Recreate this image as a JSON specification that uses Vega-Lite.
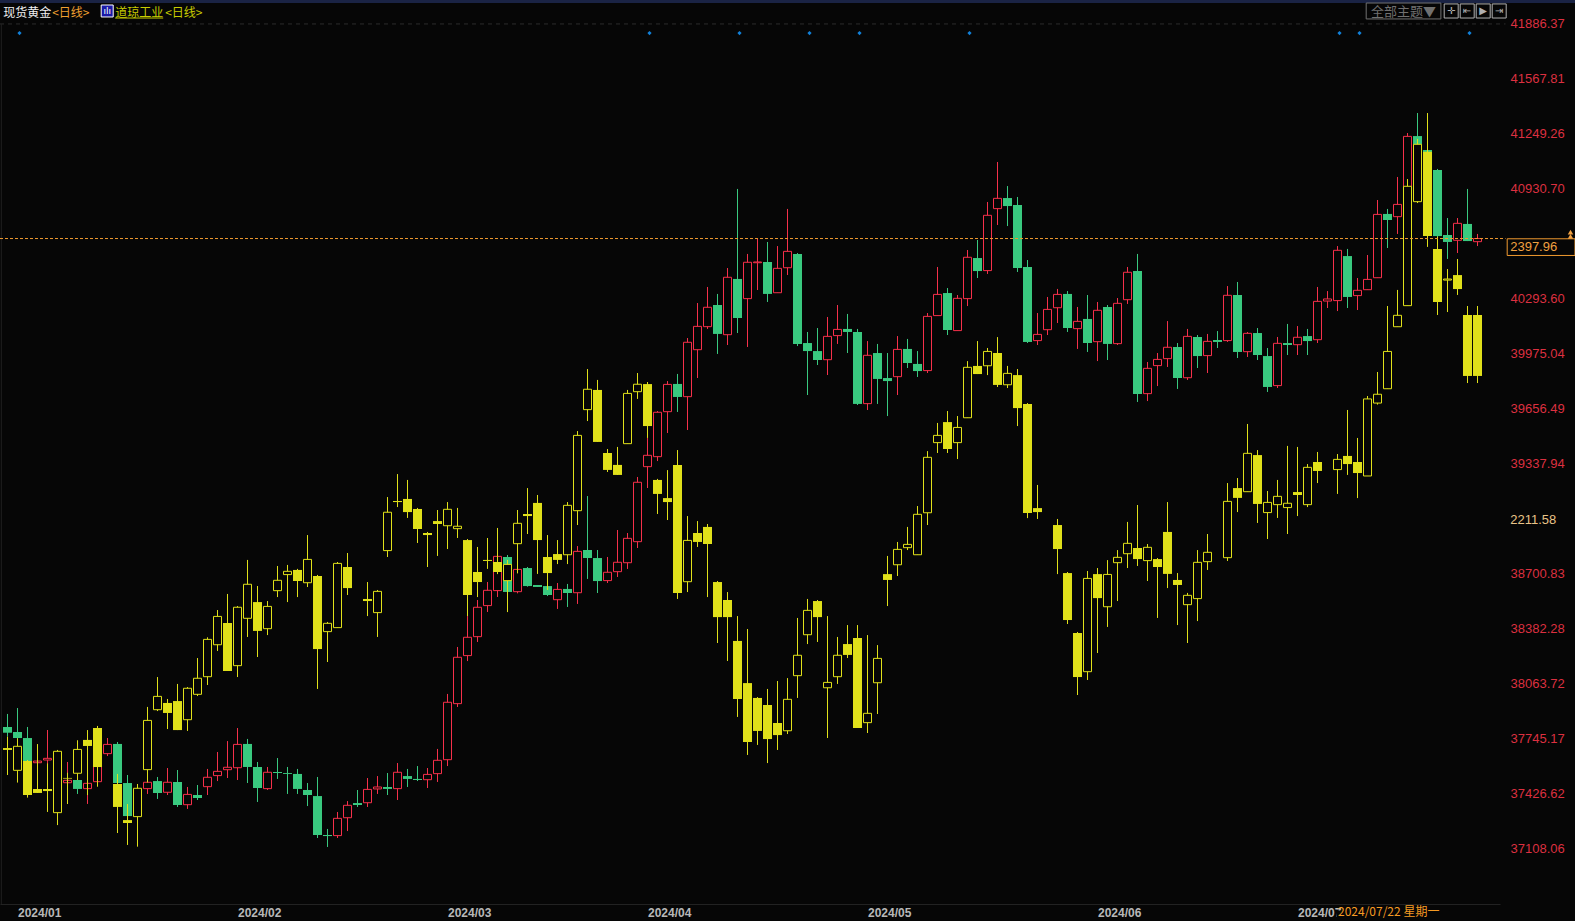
{"$schema":"https://vega.github.io/schema/vega-lite/v6.json","width":1500,"height":904,"autosize":{"type":"none"},"padding":{"left":0,"top":0,"right":75,"bottom":17},"background":"#060606","config":{"view":{"stroke":null},"text":{"font":"Noto Sans CJK SC"}},
"datasets":{"gold":[
{"i":0,"o":2075.6,"h":2084.2,"l":2069.2,"c":2071.8},{"i":1,"o":2072.3,"h":2088.1,"l":2063.0,"c":2068.3},{"i":2,"o":2068.3,"h":2075.6,"l":2049.4,"c":2051.6},{"i":3,"o":2052.0,"h":2054.9,"l":2050.5,"c":2053.1},{"i":4,"o":2053.8,"h":2073.6,"l":2042.8,"c":2054.9},{"i":5,"o":2045.0,"h":2051.6,"l":2040.6,"c":2049.4},{"i":6,"o":2038.8,"h":2052.5,"l":2037.3,"c":2040.4},{"i":7,"o":2040.6,"h":2042.8,"l":2031.4,"c":2034.7},{"i":8,"o":2034.9,"h":2040.6,"l":2024.8,"c":2038.4},{"i":9,"o":2039.5,"h":2053.8,"l":2038.4,"c":2051.6},
{"i":10,"o":2058.0,"h":2068.3,"l":2056.4,"c":2064.1},{"i":11,"o":2064.4,"h":2065.7,"l":2038.0,"c":2038.6},{"i":12,"o":2038.6,"h":2043.9,"l":2016.4,"c":2016.8},{"i":13,"o":2020.8,"h":2031.8,"l":2018.6,"c":2029.6},{"i":14,"o":2034.9,"h":2042.8,"l":2031.4,"c":2039.1},{"i":15,"o":2039.9,"h":2042.6,"l":2028.1,"c":2032.0},{"i":16,"o":2032.5,"h":2048.5,"l":2030.7,"c":2039.1},{"i":17,"o":2039.3,"h":2047.2,"l":2022.8,"c":2024.1},{"i":18,"o":2024.3,"h":2036.0,"l":2021.5,"c":2031.1},{"i":19,"o":2030.7,"h":2037.3,"l":2027.4,"c":2028.7},
{"i":20,"o":2036.2,"h":2047.9,"l":2030.7,"c":2042.4},{"i":21,"o":2043.5,"h":2059.1,"l":2039.9,"c":2046.3},{"i":22,"o":2047.4,"h":2066.3,"l":2041.9,"c":2049.0},{"i":23,"o":2048.7,"h":2074.9,"l":2040.6,"c":2064.1},{"i":24,"o":2064.4,"h":2067.7,"l":2038.6,"c":2049.2},{"i":25,"o":2049.2,"h":2052.5,"l":2026.1,"c":2035.3},{"i":26,"o":2034.9,"h":2049.2,"l":2034.0,"c":2045.7},{"i":27,"o":2045.9,"h":2055.1,"l":2041.3,"c":2045.2},{"i":28,"o":2045.2,"h":2049.2,"l":2031.4,"c":2044.6},{"i":29,"o":2044.6,"h":2047.9,"l":2031.4,"c":2034.7},
{"i":30,"o":2034.0,"h":2038.6,"l":2023.4,"c":2030.7},{"i":31,"o":2030.0,"h":2042.6,"l":2002.3,"c":2004.3},{"i":32,"o":2004.3,"h":2008.3,"l":1996.4,"c":2003.6},{"i":33,"o":2003.9,"h":2019.5,"l":2002.3,"c":2015.3},{"i":34,"o":2015.7,"h":2026.7,"l":2006.9,"c":2023.9},{"i":35,"o":2025.4,"h":2034.0,"l":2022.8,"c":2024.1},{"i":36,"o":2025.6,"h":2041.9,"l":2022.8,"c":2034.4},{"i":37,"o":2034.7,"h":2043.2,"l":2031.4,"c":2036.0},{"i":38,"o":2036.0,"h":2045.2,"l":2030.7,"c":2034.7},{"i":39,"o":2034.9,"h":2051.8,"l":2027.4,"c":2045.7},
{"i":40,"o":2043.2,"h":2047.9,"l":2036.0,"c":2041.3},{"i":41,"o":2041.3,"h":2049.8,"l":2039.9,"c":2040.6},{"i":42,"o":2040.8,"h":2048.5,"l":2035.3,"c":2044.3},{"i":43,"o":2044.8,"h":2061.1,"l":2039.3,"c":2053.6},{"i":44,"o":2054.0,"h":2097.4,"l":2049.8,"c":2091.9},{"i":45,"o":2091.0,"h":2128.4,"l":2088.8,"c":2121.6},{"i":46,"o":2122.7,"h":2148.8,"l":2119.1,"c":2134.8},{"i":47,"o":2135.2,"h":2159.4,"l":2131.7,"c":2154.6},{"i":48,"o":2155.7,"h":2171.3,"l":2151.5,"c":2165.8},{"i":49,"o":2165.6,"h":2189.1,"l":2161.4,"c":2188.2},
{"i":50,"o":2187.8,"h":2189.1,"l":2163.8,"c":2164.7},{"i":51,"o":2164.9,"h":2181.4,"l":2163.8,"c":2179.6},{"i":52,"o":2180.5,"h":2181.2,"l":2168.2,"c":2168.6},{"i":53,"o":2169.3,"h":2169.3,"l":2168.0,"c":2168.0},{"i":54,"o":2168.6,"h":2170.4,"l":2162.0,"c":2162.7},{"i":55,"o":2159.6,"h":2170.6,"l":2153.5,"c":2166.4},{"i":56,"o":2166.7,"h":2170.0,"l":2154.8,"c":2164.0},{"i":57,"o":2164.2,"h":2195.0,"l":2156.8,"c":2191.5},{"i":58,"o":2192.4,"h":2228.0,"l":2173.3,"c":2187.1},{"i":59,"o":2187.1,"h":2192.4,"l":2164.0,"c":2171.9},
{"i":60,"o":2172.2,"h":2187.8,"l":2170.6,"c":2177.7},{"i":61,"o":2178.1,"h":2205.6,"l":2174.6,"c":2184.3},{"i":62,"o":2184.0,"h":2203.6,"l":2179.9,"c":2200.1},{"i":63,"o":2197.9,"h":2240.6,"l":2193.7,"c":2237.1},{"i":64,"o":2247.4,"h":2266.3,"l":2233.3,"c":2254.9},{"i":65,"o":2254.0,"h":2284.1,"l":2251.1,"c":2283.3},{"i":66,"o":2283.7,"h":2303.9,"l":2269.6,"c":2301.7},{"i":67,"o":2302.0,"h":2308.6,"l":2283.5,"c":2293.4},{"i":68,"o":2293.6,"h":2332.3,"l":2271.6,"c":2329.5},{"i":69,"o":2324.6,"h":2355.4,"l":2305.9,"c":2340.0},
{"i":70,"o":2339.8,"h":2366.0,"l":2338.3,"c":2352.6},{"i":71,"o":2354.1,"h":2361.4,"l":2321.8,"c":2335.0},{"i":72,"o":2334.5,"h":2378.5,"l":2327.7,"c":2372.4},{"i":73,"o":2371.3,"h":2430.7,"l":2335.6,"c":2345.5},{"i":74,"o":2358.3,"h":2387.8,"l":2326.4,"c":2382.3},{"i":75,"o":2382.0,"h":2397.7,"l":2364.0,"c":2382.5},{"i":76,"o":2382.5,"h":2395.7,"l":2356.1,"c":2361.4},{"i":77,"o":2362.2,"h":2393.0,"l":2362.2,"c":2378.3},{"i":78,"o":2378.7,"h":2417.5,"l":2373.9,"c":2389.5},{"i":79,"o":2387.8,"h":2388.4,"l":2327.0,"c":2328.4},
{"i":80,"o":2329.0,"h":2336.3,"l":2294.7,"c":2323.7},{"i":81,"o":2323.7,"h":2338.9,"l":2314.5,"c":2317.8},{"i":82,"o":2318.0,"h":2346.2,"l":2307.9,"c":2333.4},{"i":83,"o":2333.9,"h":2354.1,"l":2328.4,"c":2338.0},{"i":84,"o":2338.3,"h":2348.2,"l":2322.4,"c":2336.3},{"i":85,"o":2336.3,"h":2338.3,"l":2288.1,"c":2288.8},{"i":86,"o":2289.0,"h":2330.3,"l":2284.8,"c":2320.9},{"i":87,"o":2322.4,"h":2328.4,"l":2288.8,"c":2305.3},{"i":88,"o":2305.9,"h":2322.4,"l":2280.8,"c":2303.9},{"i":89,"o":2306.8,"h":2333.6,"l":2294.7,"c":2324.8},
{"i":90,"o":2325.1,"h":2331.7,"l":2312.5,"c":2315.8},{"i":91,"o":2315.2,"h":2323.7,"l":2306.6,"c":2310.5},{"i":92,"o":2310.8,"h":2348.8,"l":2309.2,"c":2346.6},{"i":93,"o":2347.1,"h":2379.2,"l":2347.1,"c":2361.1},{"i":94,"o":2362.0,"h":2365.3,"l":2334.3,"c":2337.6},{"i":95,"o":2337.2,"h":2360.7,"l":2337.2,"c":2358.5},{"i":96,"o":2358.3,"h":2390.4,"l":2353.4,"c":2385.6},{"i":97,"o":2385.1,"h":2397.0,"l":2371.9,"c":2376.5},{"i":98,"o":2376.8,"h":2422.1,"l":2374.6,"c":2413.3},{"i":99,"o":2417.7,"h":2448.5,"l":2406.9,"c":2424.5},
{"i":100,"o":2424.7,"h":2432.6,"l":2406.2,"c":2419.4},{"i":101,"o":2420.1,"h":2425.4,"l":2375.9,"c":2378.5},{"i":102,"o":2379.2,"h":2383.8,"l":2329.0,"c":2329.7},{"i":103,"o":2330.6,"h":2348.8,"l":2327.7,"c":2334.7},{"i":104,"o":2337.8,"h":2359.4,"l":2334.3,"c":2351.2},{"i":105,"o":2352.3,"h":2364.7,"l":2342.2,"c":2361.1},{"i":106,"o":2361.4,"h":2363.3,"l":2336.3,"c":2338.9},{"i":107,"o":2338.5,"h":2352.8,"l":2325.1,"c":2343.3},{"i":108,"o":2344.9,"h":2360.7,"l":2323.1,"c":2329.0},{"i":109,"o":2329.9,"h":2356.1,"l":2317.1,"c":2350.6},
{"i":110,"o":2352.8,"h":2354.1,"l":2317.8,"c":2328.4},{"i":111,"o":2328.6,"h":2358.7,"l":2327.7,"c":2355.2},{"i":112,"o":2357.6,"h":2379.2,"l":2354.8,"c":2375.7},{"i":113,"o":2376.5,"h":2387.8,"l":2290.1,"c":2295.4},{"i":114,"o":2295.6,"h":2316.5,"l":2290.7,"c":2312.3},{"i":115,"o":2314.1,"h":2322.4,"l":2300.6,"c":2318.2},{"i":116,"o":2318.7,"h":2343.5,"l":2313.2,"c":2326.2},{"i":117,"o":2326.4,"h":2329.0,"l":2298.7,"c":2305.9},{"i":118,"o":2306.1,"h":2338.3,"l":2304.6,"c":2333.4},{"i":119,"o":2333.0,"h":2334.3,"l":2312.5,"c":2320.4},
{"i":120,"o":2320.7,"h":2335.0,"l":2309.2,"c":2330.1},{"i":121,"o":2331.0,"h":2336.9,"l":2325.7,"c":2329.7},{"i":122,"o":2330.6,"h":2366.6,"l":2329.7,"c":2360.5},{"i":123,"o":2360.7,"h":2369.3,"l":2319.1,"c":2323.1},{"i":124,"o":2323.3,"h":2336.3,"l":2319.8,"c":2335.4},{"i":125,"o":2335.6,"h":2338.9,"l":2317.8,"c":2321.1},{"i":126,"o":2320.4,"h":2325.7,"l":2296.7,"c":2300.0},{"i":127,"o":2300.9,"h":2333.0,"l":2299.3,"c":2328.8},{"i":128,"o":2329.0,"h":2341.6,"l":2321.1,"c":2327.7},{"i":129,"o":2327.9,"h":2340.2,"l":2321.1,"c":2332.8},
{"i":130,"o":2333.6,"h":2338.3,"l":2321.1,"c":2330.3},{"i":131,"o":2331.2,"h":2366.0,"l":2329.0,"c":2356.5},{"i":132,"o":2356.7,"h":2363.3,"l":2352.1,"c":2358.1},{"i":133,"o":2357.0,"h":2393.0,"l":2350.1,"c":2390.2},{"i":134,"o":2386.4,"h":2391.1,"l":2352.1,"c":2359.4},{"i":135,"o":2360.3,"h":2371.9,"l":2350.8,"c":2363.8},{"i":136,"o":2364.2,"h":2387.1,"l":2364.0,"c":2371.0},{"i":137,"o":2372.1,"h":2423.4,"l":2372.1,"c":2413.9},{"i":138,"o":2414.2,"h":2417.5,"l":2391.7,"c":2410.2},{"i":139,"o":2412.4,"h":2438.6,"l":2401.0,"c":2420.5},
{"i":140,"o":2414.6,"h":2467.6,"l":2410.2,"c":2465.4},{"i":141,"o":2465.6,"h":2480.8,"l":2421.6,"c":2432.2},{"i":142,"o":2456.4,"h":2458.6,"l":2414.6,"c":2423.4},{"i":143,"o":2443.2,"h":2443.9,"l":2391.5,"c":2399.6},{"i":144,"o":2400.3,"h":2411.5,"l":2384.5,"c":2395.7},{"i":145,"o":2396.8,"h":2411.5,"l":2388.4,"c":2408.0},{"i":146,"o":2407.6,"h":2430.7,"l":2396.3,"c":2396.3},{"i":147,"o":2395.9,"h":2401.0,"l":2393.0,"c":2397.96}
],"dow":[
{"i":0,"o":37692,"h":37758,"l":37536,"c":37681},{"i":1,"o":37563,"h":37748,"l":37492,"c":37702},{"i":2,"o":37617,"h":37623,"l":37405,"c":37420},{"i":3,"o":37455,"h":37715,"l":37432,"c":37432},{"i":4,"o":37455,"h":37603,"l":37322,"c":37443},{"i":5,"o":37318,"h":37681,"l":37246,"c":37673},{"i":6,"o":37519,"h":37549,"l":37368,"c":37515},{"i":7,"o":37546,"h":37737,"l":37507,"c":37684},{"i":8,"o":37739,"h":37796,"l":37420,"c":37704},{"i":9,"o":37808,"h":37820,"l":37468,"c":37582},
{"i":11,"o":37484,"h":37542,"l":37200,"c":37351},{"i":12,"o":37275,"h":37368,"l":37131,"c":37258},{"i":13,"o":37295,"h":37484,"l":37121,"c":37459},{"i":14,"o":37567,"h":37930,"l":37493,"c":37852},{"i":15,"o":37914,"h":38103,"l":37906,"c":37991},{"i":16,"o":37953,"h":37976,"l":37802,"c":37895},{"i":17,"o":37964,"h":38063,"l":37796,"c":37796},{"i":18,"o":37856,"h":38045,"l":37791,"c":38038},{"i":19,"o":38003,"h":38213,"l":37993,"c":38096},
{"i":20,"o":38105,"h":38333,"l":38057,"c":38321},{"i":21,"o":38290,"h":38491,"l":38254,"c":38454},{"i":22,"o":38416,"h":38584,"l":38138,"c":38138},{"i":23,"o":38169,"h":38514,"l":38103,"c":38507},{"i":24,"o":38443,"h":38781,"l":38335,"c":38640},{"i":25,"o":38537,"h":38630,"l":38219,"c":38370},{"i":26,"o":38383,"h":38543,"l":38346,"c":38512},{"i":27,"o":38603,"h":38746,"l":38566,"c":38663},{"i":28,"o":38696,"h":38752,"l":38537,"c":38715},{"i":29,"o":38723,"h":38729,"l":38566,"c":38659},
{"i":30,"o":38649,"h":38925,"l":38624,"c":38784},{"i":31,"o":38688,"h":38694,"l":38034,"c":38265},{"i":32,"o":38366,"h":38422,"l":38190,"c":38414},{"i":33,"o":38389,"h":38769,"l":38389,"c":38761},{"i":34,"o":38740,"h":38821,"l":38578,"c":38618},{"i":36,"o":38555,"h":38653,"l":38456,"c":38543},{"i":37,"o":38476,"h":38607,"l":38335,"c":38599},{"i":38,"o":38835,"h":39145,"l":38798,"c":39057},{"i":39,"o":39122,"h":39278,"l":39087,"c":39116},
{"i":40,"o":39134,"h":39244,"l":39024,"c":39058},{"i":41,"o":39076,"h":39082,"l":38879,"c":38960},{"i":42,"o":38937,"h":38943,"l":38740,"c":38925},{"i":43,"o":39006,"h":39070,"l":38804,"c":38989},{"i":44,"o":38979,"h":39116,"l":38844,"c":39074},{"i":45,"o":38962,"h":39082,"l":38908,"c":38976},{"i":46,"o":38896,"h":38902,"l":38456,"c":38578},{"i":47,"o":38711,"h":38856,"l":38566,"c":38653},{"i":48,"o":38781,"h":38908,"l":38729,"c":38775},{"i":49,"o":38769,"h":38966,"l":38699,"c":38711},
{"i":50,"o":38661,"h":38781,"l":38479,"c":38755},{"i":51,"o":38875,"h":39070,"l":38703,"c":38993},{"i":52,"o":39047,"h":39197,"l":38931,"c":39035},{"i":53,"o":39111,"h":39157,"l":38700,"c":38896},{"i":54,"o":38798,"h":38925,"l":38607,"c":38705},{"i":55,"o":38815,"h":38896,"l":38757,"c":38781},{"i":56,"o":38811,"h":39116,"l":38757,"c":39097},{"i":57,"o":39066,"h":39527,"l":38983,"c":39502},{"i":58,"o":39651,"h":39886,"l":39585,"c":39769},{"i":59,"o":39765,"h":39823,"l":39464,"c":39464},
{"i":60,"o":39400,"h":39423,"l":39290,"c":39302},{"i":61,"o":39331,"h":39435,"l":39273,"c":39273},{"i":62,"o":39454,"h":39765,"l":39454,"c":39745},{"i":63,"o":39755,"h":39863,"l":39713,"c":39798},{"i":64,"o":39799,"h":39811,"l":39487,"c":39556},{"i":65,"o":39244,"h":39250,"l":39047,"c":39163},{"i":66,"o":39139,"h":39301,"l":39012,"c":39116},{"i":67,"o":39330,"h":39417,"l":38555,"c":38589},{"i":68,"o":38655,"h":39035,"l":38595,"c":38894},{"i":69,"o":38937,"h":39006,"l":38856,"c":38885},
{"i":70,"o":38972,"h":38989,"l":38566,"c":38873},{"i":71,"o":38653,"h":38659,"l":38300,"c":38450},{"i":72,"o":38549,"h":38595,"l":38196,"c":38450},{"i":73,"o":38312,"h":38456,"l":37872,"c":37976},{"i":74,"o":38068,"h":38381,"l":37652,"c":37727},{"i":75,"o":37982,"h":37987,"l":37710,"c":37791},{"i":76,"o":37941,"h":38034,"l":37605,"c":37744},{"i":77,"o":37837,"h":38080,"l":37681,"c":37767},{"i":78,"o":37792,"h":38097,"l":37773,"c":37974},{"i":79,"o":38111,"h":38445,"l":37982,"c":38229},
{"i":80,"o":38348,"h":38555,"l":38294,"c":38489},{"i":81,"o":38543,"h":38549,"l":38306,"c":38450},{"i":82,"o":38041,"h":38456,"l":37750,"c":38072},{"i":83,"o":38105,"h":38335,"l":38063,"c":38229},{"i":84,"o":38294,"h":38404,"l":38213,"c":38231},{"i":85,"o":38329,"h":38404,"l":37808,"c":37808},{"i":86,"o":37839,"h":38346,"l":37779,"c":37893},{"i":87,"o":38070,"h":38288,"l":37889,"c":38211},{"i":88,"o":38699,"h":38804,"l":38514,"c":38665},{"i":89,"o":38753,"h":38885,"l":38688,"c":38842},
{"i":90,"o":38852,"h":38972,"l":38838,"c":38871},{"i":91,"o":38811,"h":39093,"l":38811,"c":39045},{"i":92,"o":39054,"h":39411,"l":38983,"c":39375},{"i":93,"o":39460,"h":39574,"l":39400,"c":39502},{"i":94,"o":39579,"h":39643,"l":39400,"c":39423},{"i":95,"o":39460,"h":39614,"l":39365,"c":39548},{"i":96,"o":39604,"h":39932,"l":39604,"c":39896},{"i":97,"o":39904,"h":40048,"l":39857,"c":39857},{"i":98,"o":39905,"h":40008,"l":39851,"c":39988},{"i":99,"o":39979,"h":40071,"l":39782,"c":39794},
{"i":100,"o":39795,"h":39904,"l":39776,"c":39861},{"i":101,"o":39851,"h":39886,"l":39556,"c":39660},{"i":102,"o":39684,"h":39689,"l":39023,"c":39053},{"i":103,"o":39081,"h":39215,"l":39018,"c":39058},{"i":105,"o":38983,"h":39018,"l":38699,"c":38844},{"i":106,"o":38705,"h":38711,"l":38410,"c":38433},{"i":107,"o":38358,"h":38364,"l":37999,"c":38103},{"i":108,"o":38134,"h":38717,"l":38086,"c":38674},{"i":109,"o":38699,"h":38734,"l":38242,"c":38560},
{"i":110,"o":38510,"h":38780,"l":38393,"c":38697},{"i":111,"o":38765,"h":38838,"l":38543,"c":38796},{"i":112,"o":38817,"h":39001,"l":38734,"c":38877},{"i":113,"o":38850,"h":39099,"l":38746,"c":38786},{"i":114,"o":38777,"h":38873,"l":38659,"c":38854},{"i":115,"o":38786,"h":38792,"l":38445,"c":38740},{"i":116,"o":38943,"h":39116,"l":38618,"c":38700},{"i":117,"o":38665,"h":38705,"l":38404,"c":38636},{"i":118,"o":38522,"h":38590,"l":38300,"c":38576},{"i":119,"o":38557,"h":38838,"l":38427,"c":38767},
{"i":120,"o":38771,"h":38931,"l":38723,"c":38825},{"i":122,"o":38794,"h":39226,"l":38775,"c":39120},{"i":123,"o":39197,"h":39255,"l":39058,"c":39140},{"i":124,"o":39176,"h":39568,"l":39176,"c":39398},{"i":125,"o":39388,"h":39417,"l":38995,"c":39105},{"i":126,"o":39055,"h":39180,"l":38902,"c":39114},{"i":127,"o":39101,"h":39244,"l":39024,"c":39149},{"i":128,"o":39084,"h":39441,"l":38931,"c":39109},{"i":129,"o":39174,"h":39435,"l":39035,"c":39157},
{"i":130,"o":39101,"h":39336,"l":39087,"c":39317},{"i":131,"o":39348,"h":39406,"l":39226,"c":39296},{"i":133,"o":39304,"h":39394,"l":39163,"c":39363},{"i":134,"o":39383,"h":39649,"l":39273,"c":39336},{"i":135,"o":39348,"h":39487,"l":39139,"c":39284},{"i":136,"o":39267,"h":39730,"l":39267,"c":39713},{"i":137,"o":39689,"h":39869,"l":39680,"c":39740},{"i":138,"o":39772,"h":40251,"l":39772,"c":39988},{"i":139,"o":40131,"h":40344,"l":40131,"c":40197},
{"i":140,"o":40253,"h":40986,"l":40253,"c":40944},{"i":141,"o":40855,"h":41218,"l":40847,"c":41187},{"i":142,"o":41144,"h":41368,"l":40593,"c":40656},{"i":143,"o":40581,"h":40652,"l":40199,"c":40274},{"i":144,"o":40401,"h":40465,"l":40216,"c":40407},{"i":145,"o":40430,"h":40523,"l":40315,"c":40349},{"i":146,"o":40199,"h":40251,"l":39805,"c":39846},{"i":147,"o":40199,"h":40251,"l":39805,"c":39846}
]},
"encoding":{"x":{"field":"i","type":"quantitative","scale":{"domain":[-0.75,149.25],"nice":false,"zero":false,"padding":0},"axis":{"orient":"bottom","title":null,"grid":false,"values":[1,23,44,64,86,109,129],"labelExpr":"datum.value==1?'2024/01':datum.value==23?'2024/02':datum.value==44?'2024/03':datum.value==64?'2024/04':datum.value==86?'2024/05':datum.value==109?'2024/06':'2024/07'","labelAlign":"left","labelFont":"Liberation Sans","labelFontSize":12,"labelFontWeight":"bold","labelColor":"#b8b8b8","labelPadding":3,"labelOverlap":false,"labelFlush":false,"tickSize":0,"domainColor":"#222222"}}},
"layer":[
{"data":{"name":"gold"},"layer":[
{"transform":[{"filter":"datum.c>=datum.o"}],"mark":{"type":"rule","color":"#f5304a","strokeWidth":1},"encoding":{"y":{"field":"l","type":"quantitative","scale":{"domain":[1958.76,2555.4],"nice":false,"zero":false},"axis":null},"y2":{"field":"h"}}},
{"transform":[{"filter":"datum.c<datum.o"}],"mark":{"type":"rule","color":"#39c97f","strokeWidth":1},"encoding":{"y":{"field":"l","type":"quantitative","axis":null},"y2":{"field":"h"}}},
{"transform":[{"filter":"datum.c>=datum.o"}],"mark":{"type":"bar","size":8,"fill":"#060606","stroke":"#f5304a","strokeWidth":1},"encoding":{"y":{"field":"o","type":"quantitative","axis":null},"y2":{"field":"c"}}},
{"transform":[{"filter":"datum.c<datum.o"}],"mark":{"type":"bar","size":9,"fill":"#39c97f"},"encoding":{"y":{"field":"o","type":"quantitative","axis":null},"y2":{"field":"c"}}}
]},
{"data":{"name":"dow"},"layer":[
{"mark":{"type":"rule","color":"#e0e01a","strokeWidth":1},"encoding":{"y":{"field":"l","type":"quantitative","scale":{"domain":[36789.14,42022.4],"nice":false,"zero":false},"axis":{"orient":"right","title":null,"grid":false,"domain":false,"tickSize":0,"labelPadding":10,"labelFont":"Liberation Sans","labelFontSize":13,"labelColor":"#dc3040","format":".2f","labelOverlap":false,"labelFlush":false,"values":[41886.37,41567.81,41249.26,40930.70,40293.60,39975.04,39656.49,39337.94,38700.83,38382.28,38063.72,37745.17,37426.62,37108.06]}},"y2":{"field":"h"}}},
{"transform":[{"filter":"datum.c>=datum.o"}],"mark":{"type":"bar","size":8,"fill":"#060606","stroke":"#e0e01a","strokeWidth":1},"encoding":{"y":{"field":"o","type":"quantitative"},"y2":{"field":"c"}}},
{"transform":[{"filter":"datum.c<datum.o"}],"mark":{"type":"bar","size":9,"fill":"#e0e01a"},"encoding":{"y":{"field":"o","type":"quantitative"},"y2":{"field":"c"}}}
]},
{"layer":[
{"data":{"values":[{"i":-0.75,"i2":156.8,"p":2555.4,"p2":2553.4}]},"mark":{"type":"rect","fill":"#1a2344"},"encoding":{"x2":{"field":"i2"},"y":{"field":"p","type":"quantitative","scale":{"domain":[1958.76,2555.4],"nice":false,"zero":false},"axis":null},"y2":{"field":"p2"}}},
{"data":{"values":[{"i":-0.75,"i2":149.8,"p":2539.6}]},"mark":{"type":"rule","color":"#2c2c2c","strokeWidth":1,"strokeDash":[4,4]},"encoding":{"x2":{"field":"i2"},"y":{"field":"p","type":"quantitative","axis":null}}},
{"data":{"values":[{"i":-0.62,"p":2539.6,"p2":1958.76}]},"mark":{"type":"rule","color":"#202020","strokeWidth":1},"encoding":{"y":{"field":"p","type":"quantitative","axis":null},"y2":{"field":"p2"}}},
{"data":{"values":[{"i":-0.75,"i2":149.8,"p":2397.96}]},"mark":{"type":"rule","color":"#f09a30","strokeWidth":1,"strokeDash":[3,2]},"encoding":{"x2":{"field":"i2"},"y":{"field":"p","type":"quantitative","axis":null}}},
{"data":{"values":[{"i":1.2,"p":2533.6},{"i":64.2,"p":2533.6},{"i":73.2,"p":2533.6},{"i":80.2,"p":2533.6},{"i":85.2,"p":2533.6},{"i":96.2,"p":2533.6},{"i":133.2,"p":2533.6},{"i":135.2,"p":2533.6},{"i":146.2,"p":2533.6}]},"mark":{"type":"point","shape":"diamond","filled":true,"size":18,"color":"#1280d8","opacity":1},"encoding":{"y":{"field":"p","type":"quantitative","axis":null}}},
{"data":{"values":[{"i":149.97,"i2":156.75,"p":2397.8,"p2":2386.8}]},"mark":{"type":"rect","fill":"#060606","stroke":"#f09a30","strokeWidth":1},"encoding":{"x2":{"field":"i2"},"y":{"field":"p","type":"quantitative","axis":null},"y2":{"field":"p2"}}},
{"data":{"values":[{"i":156.3,"p":2402.2},{"i":156.3,"p":2399.4}]},"mark":{"type":"point","shape":"triangle-up","filled":true,"size":30,"color":"#f0a040","opacity":1},"encoding":{"y":{"field":"p","type":"quantitative","axis":null}}},
{"data":{"values":[{"i":150.27,"p":2392.4,"label":"2397.96"}]},"mark":{"type":"text","align":"left","baseline":"middle","font":"Liberation Sans","fontSize":13,"color":"#f0a040"},"encoding":{"y":{"field":"p","type":"quantitative","axis":null},"text":{"field":"label"}}},
{"data":{"values":[{"i":150.27,"p":2212.2,"label":"2211.58"}]},"mark":{"type":"text","align":"left","baseline":"middle","font":"Liberation Sans","fontSize":13,"color":"#e8c488"},"encoding":{"y":{"field":"p","type":"quantitative","axis":null},"text":{"field":"label"}}},
{"data":{"values":[{"i":132.9,"i2":144.2,"p":1954.5,"p2":1944.5}]},"mark":{"type":"rect","fill":"#060606"},"encoding":{"x2":{"field":"i2"},"y":{"field":"p","type":"quantitative","axis":null},"y2":{"field":"p2"}}},
{"data":{"values":[{"i":133.05,"p":1953.5,"label":"2024/07/22 星期一"}]},"mark":{"type":"text","align":"left","baseline":"middle","fontSize":12,"color":"#f59a23"},"encoding":{"y":{"field":"p","type":"quantitative","axis":null},"text":{"field":"label"}}},
{"data":{"values":[{"i":-0.43,"p":2546.8,"label":"现货黄金"}]},"mark":{"type":"text","align":"left","baseline":"middle","fontSize":12,"color":"#f0f0f0"},"encoding":{"y":{"field":"p","type":"quantitative","axis":null},"text":{"field":"label"}}},
{"data":{"values":[{"i":4.47,"p":2546.8,"label":"<日线>"}]},"mark":{"type":"text","align":"left","baseline":"middle","fontSize":12,"color":"#f0a030"},"encoding":{"y":{"field":"p","type":"quantitative","axis":null},"text":{"field":"label"}}},
{"data":{"values":[{"i":9.37,"i2":10.57,"p":2552.1,"p2":2544.2}]},"mark":{"type":"rect","fill":"#1a1aa8","stroke":"#ffffff","strokeWidth":1},"encoding":{"x2":{"field":"i2"},"y":{"field":"p","type":"quantitative","axis":null},"y2":{"field":"p2"}}},
{"data":{"values":[{"i":9.97,"p":2548.1,"label":"ılı"}]},"mark":{"type":"text","align":"center","baseline":"middle","fontSize":9,"font":"DejaVu Sans","color":"#ffffff"},"encoding":{"y":{"field":"p","type":"quantitative","axis":null},"text":{"field":"label"}}},
{"data":{"values":[{"i":10.77,"p":2546.8,"label":"道琼工业"},{"i":15.77,"p":2546.8,"label":"<日线>"}]},"mark":{"type":"text","align":"left","baseline":"middle","fontSize":12,"color":"#c8cc00"},"encoding":{"y":{"field":"p","type":"quantitative","axis":null},"text":{"field":"label"}}},
{"data":{"values":[{"i":10.77,"i2":15.57,"p":2543.5}]},"mark":{"type":"rule","color":"#c8cc00","strokeWidth":1},"encoding":{"x2":{"field":"i2"},"y":{"field":"p","type":"quantitative","axis":null}}},
{"data":{"values":[{"i":135.87,"i2":143.34,"p":2553.4,"p2":2542.9}]},"mark":{"type":"rect","fillOpacity":0,"stroke":"#707070","strokeWidth":1},"encoding":{"x2":{"field":"i2"},"y":{"field":"p","type":"quantitative","axis":null},"y2":{"field":"p2"}}},
{"data":{"values":[{"i":139.6,"p":2547.8,"label":"全部主题▼"}]},"mark":{"type":"text","align":"center","baseline":"middle","fontSize":13,"color":"#707070"},"encoding":{"y":{"field":"p","type":"quantitative","axis":null},"text":{"field":"label"}}},
{"data":{"values":[{"i":143.67,"i2":145.07,"p":2552.8,"p2":2543.5},{"i":145.27,"i2":146.67,"p":2552.8,"p2":2543.5},{"i":146.87,"i2":148.27,"p":2552.8,"p2":2543.5},{"i":148.47,"i2":149.87,"p":2552.8,"p2":2543.5}]},"mark":{"type":"rect","fillOpacity":0,"stroke":"#b0b0b0","strokeWidth":1},"encoding":{"x2":{"field":"i2"},"y":{"field":"p","type":"quantitative","axis":null},"y2":{"field":"p2"}}},
{"data":{"values":[{"i":144.37,"p":2548.1,"label":"✛"},{"i":145.97,"p":2548.1,"label":"⇤"},{"i":147.57,"p":2548.1,"label":"▶"},{"i":149.17,"p":2548.1,"label":"⇥"}]},"mark":{"type":"text","align":"center","baseline":"middle","fontSize":10,"font":"DejaVu Sans","color":"#b0b0b0"},"encoding":{"y":{"field":"p","type":"quantitative","axis":null},"text":{"field":"label"}}}
]}
],
"resolve":{"scale":{"y":"independent"}}}
